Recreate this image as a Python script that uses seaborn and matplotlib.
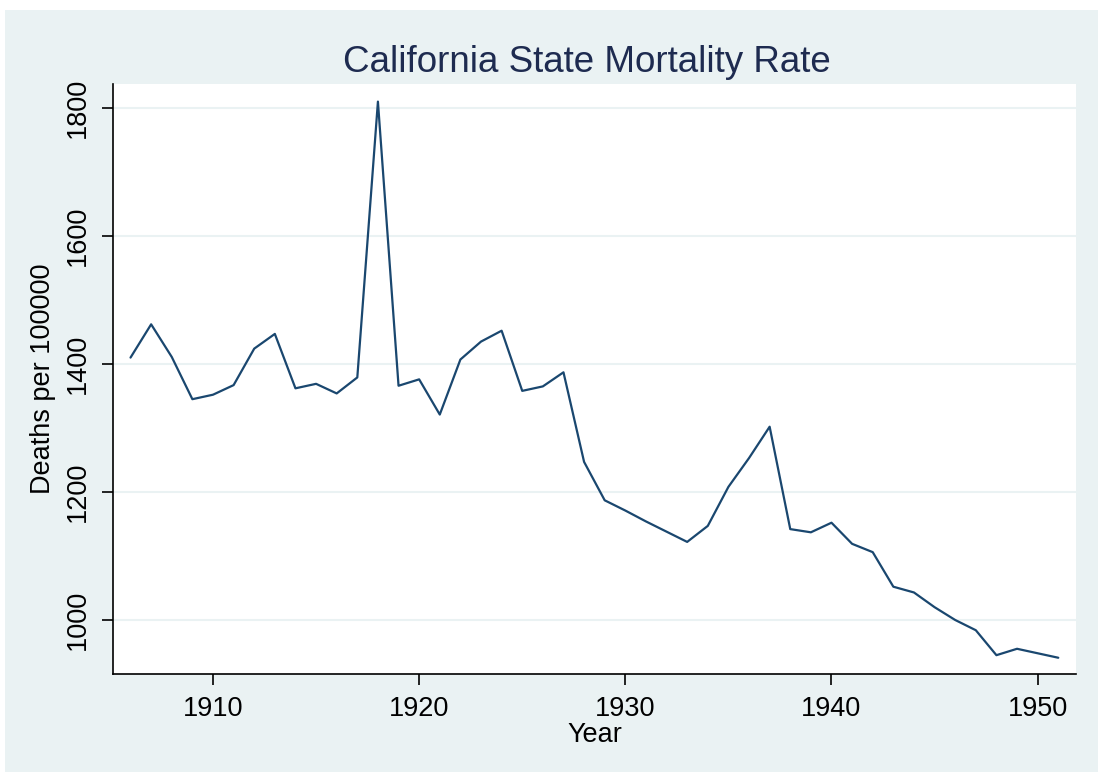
import matplotlib
import matplotlib.pyplot as plt
import pandas as pd
import seaborn as sns
from matplotlib.patches import Rectangle

years = list(range(1906, 1952))
deaths = [
    1410, 1462, 1411, 1345, 1352, 1367, 1424, 1447, 1362, 1369,
    1354, 1379, 1810, 1366, 1376, 1321, 1407, 1435, 1452, 1358,
    1365, 1387, 1247, 1187, 1171, 1154, 1138, 1122, 1147, 1208,
    1253, 1302, 1142, 1137, 1152, 1119, 1106, 1052, 1043, 1020,
    1000, 984, 945, 955, 948, 941,
]
x_ticks = [1910, 1920, 1930, 1940, 1950]
y_ticks = [1000, 1200, 1400, 1600, 1800]

bg = "#eaf2f3"
navy = "#1a476f"

sns.set_style("white")
plt.rcParams["font.family"] = ["Liberation Sans", "DejaVu Sans"]
plt.rcParams["text.color"] = "black"
plt.rcParams["axes.labelcolor"] = "black"
plt.rcParams["xtick.color"] = "black"
plt.rcParams["ytick.color"] = "black"

data = pd.DataFrame({"Year": years, "Deaths": deaths})

fig = plt.figure(figsize=(10.98, 7.73), dpi=100)
fig.patch.set_facecolor("white")
# stata-style light backdrop with a thin white margin
fig.add_artist(
    Rectangle((5 / 1098, 1 / 773), 1093 / 1098, 762 / 773,
              transform=fig.transFigure, facecolor=bg, edgecolor="none", zorder=-10)
)
ax = fig.add_axes([113 / 1098, 1 - 674 / 773, (1076 - 113) / 1098, (674 - 84) / 773])
ax.set_zorder(1)
ax.set_facecolor("white")

sns.lineplot(data, x="Year", y="Deaths", ax=ax, color=navy, linewidth=1.6)

ax.set_xlim(1905.15, 1951.86)
ax.set_ylim(915.6, 1837.5)
ax.set_xticks(x_ticks)
ax.set_yticks(y_ticks)
ax.yaxis.grid(True, color=bg, linewidth=1.5)
ax.xaxis.grid(False)
ax.set_axisbelow(True)

for side in ["top", "right"]:
    ax.spines[side].set_visible(False)
for side in ["left", "bottom"]:
    ax.spines[side].set_color("black")
    ax.spines[side].set_linewidth(1.2)

ax.tick_params(axis="both", direction="out", length=8, width=1.2, colors="black",
               labelsize=19.5, pad=8, left=True, bottom=True)
plt.setp(ax.get_yticklabels(), rotation=90, va="center")

ax.set_xlabel("Year", fontsize=19.5, labelpad=0, color="black")
ax.set_ylabel("Deaths per 100000", fontsize=19.5, labelpad=6, color="black")
ax.set_title("California State Mortality Rate", fontsize=26.5, color="#1e2b50",
             pad=9, x=0.4917)

plt.savefig("out.png", dpi=100, facecolor=fig.get_facecolor())
